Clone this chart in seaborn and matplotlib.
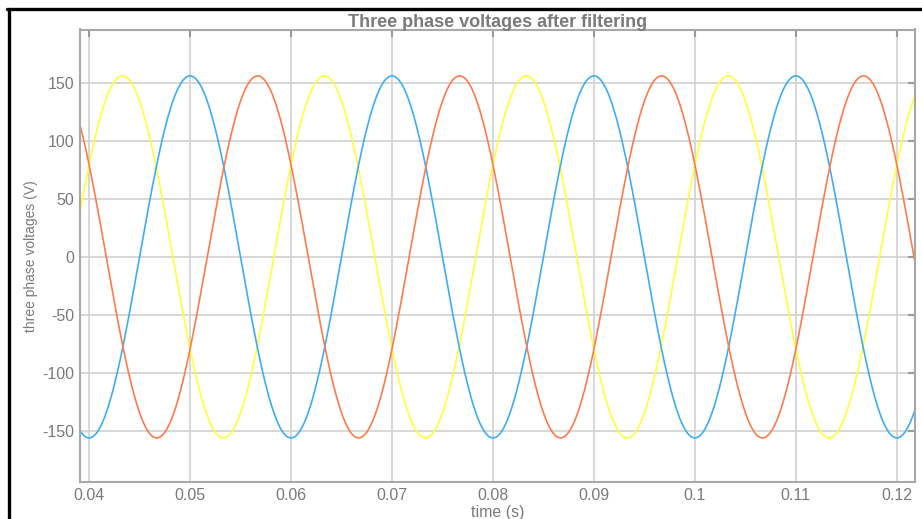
import numpy as np
import pandas as pd
import seaborn as sns
import matplotlib.pyplot as plt
from matplotlib.lines import Line2D

# ------------------------------------------------------------
# Values
# ------------------------------------------------------------
phase_names = ["Va", "Vb", "Vc"]
phase_colors = ["#FFFF3A", "#3DAEF5", "#FF7A4C"]
peak_volts = [156, 156, 156]            # amplitude of each phase (V)
first_peak_time = [0.0433, 0.0500, 0.0567]  # time of a positive peak (s)
line_freq = 50                          # Hz, one period = 0.02 s
t_start, t_end = 0.0391, 0.1218
xticks = [0.04, 0.05, 0.06, 0.07, 0.08, 0.09, 0.1, 0.11, 0.12]
xtick_labels = ["0.04", "0.05", "0.06", "0.07", "0.08", "0.09", "0.1", "0.11", "0.12"]
yticks = [-150, -100, -50, 0, 50, 100, 150]

# ------------------------------------------------------------
# Build long-form table
# ------------------------------------------------------------
t = np.linspace(t_start, t_end, 2000)
frames = []
for name, amp, tp in zip(phase_names, peak_volts, first_peak_time):
    v = amp * np.cos(2 * np.pi * line_freq * (t - tp))
    frames.append(pd.DataFrame({"time": t, "voltage": v, "phase": name}))
df = pd.concat(frames, ignore_index=True)

# ------------------------------------------------------------
# Plot
# ------------------------------------------------------------
sns.set_style("white")
plt.rcParams["font.family"] = ["Liberation Sans", "DejaVu Sans"]
plt.rcParams["axes.unicode_minus"] = False

fig = plt.figure(figsize=(9.22, 5.19), dpi=100)
ax = fig.add_axes([80 / 922, 1 - 482 / 519, 835 / 922, 452.5 / 519])

sns.lineplot(data=df, x="time", y="voltage", hue="phase",
             palette=dict(zip(phase_names, phase_colors)),
             linewidth=1.2, legend=False, ax=ax, sort=False)

ax.set_xlim(t_start, t_end)
ax.set_ylim(-194, 196)
ax.set_xticks(xticks)
ax.set_xticklabels(xtick_labels)
ax.set_yticks(yticks)

ax.grid(True, color="#d4d4d4", linewidth=1.3)
ax.set_axisbelow(True)
for s in ax.spines.values():
    s.set_color("#a8a8a8")
    s.set_linewidth(1.5)
ax.tick_params(axis="both", direction="in", length=5, width=1.5,
               color="#9a9a9a", labelcolor="#7a7a7a", labelsize=11.5,
               top=True, right=True, pad=4)

ax.set_xlabel("time (s)", color="#7a7a7a", fontsize=11.5, labelpad=2)
ax.set_ylabel("three phase voltages (V)", color="#7a7a7a", fontsize=10,
              labelpad=3)
ax.set_title("Three phase voltages after filtering", color="#7a7a7a",
             fontsize=13, fontweight="bold", pad=2)

# black frame on the left and top of the picture
fig.add_artist(Line2D([8.5 / 922, 8.5 / 922], [0, 1 - 8.5 / 519],
                      color="black", linewidth=2.4, transform=fig.transFigure))
fig.add_artist(Line2D([7 / 922, 1], [1 - 8.5 / 519, 1 - 8.5 / 519],
                      color="black", linewidth=2.4, transform=fig.transFigure))

fig.savefig("out.png", dpi=100)
